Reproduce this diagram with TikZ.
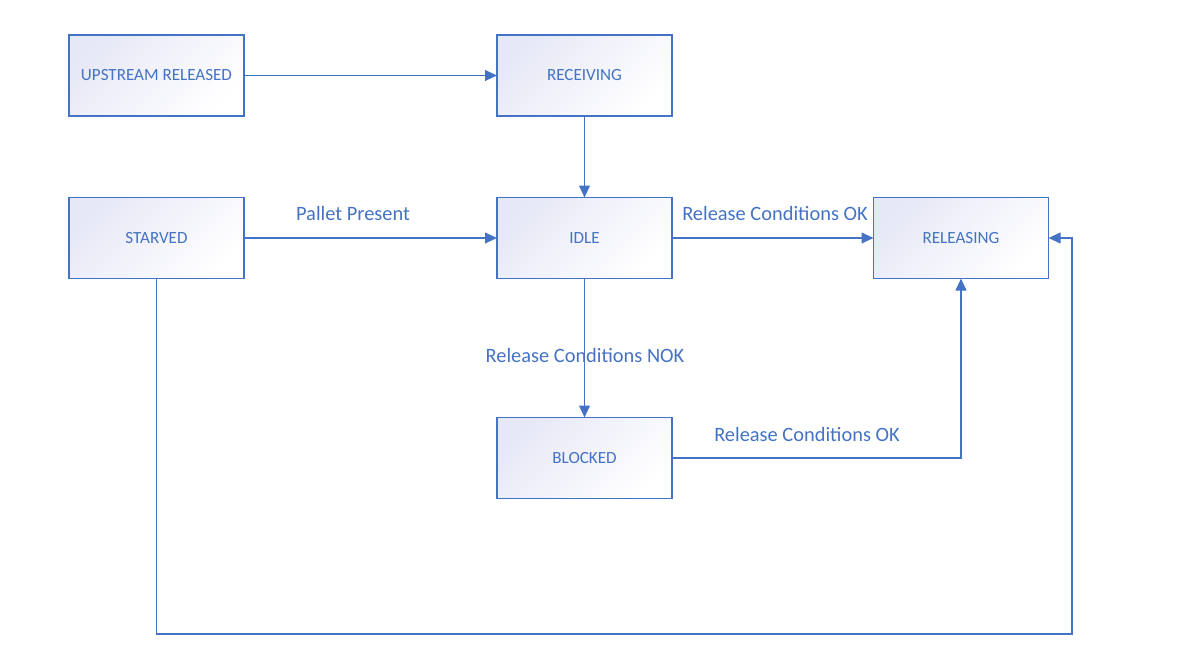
\documentclass[tikz,border=0pt]{standalone}
\usepackage{fontspec}
\setmainfont{Carlito}
\usepackage{tikz}
\usetikzlibrary{arrows.meta,positioning}
\definecolor{stblue}{RGB}{68,114,196}
\definecolor{stlav}{RGB}{230,232,246}
\tikzstyle{state} = [draw=stblue, line width=0.9pt, minimum width=131.25pt, minimum height=60.75pt, inner sep=0pt, outer sep=0pt, top color=stlav, bottom color=white, shading angle=45, text=stblue, font=\fontsize{12.8}{15}\selectfont]
\tikzstyle{arrow} = [line width=1.4pt, -{Triangle[length=9pt,width=8pt]}, color=stblue]
\tikzstyle{lbl} = [text=stblue, font=\fontsize{15.3}{18}\selectfont]

\begin{document}
\begin{tikzpicture}[x=0.75pt, y=-0.75pt]
\useasboundingbox (0,0) rectangle (1197,661);

% States
\node[state] (upstream) at (156.5,75.5) {UPSTREAM RELEASED};
\node[state] (receiving) at (584.5,75.5) {RECEIVING};
\node[state] (starved) at (156.5,238) {STARVED};
\node[state] (idle) at (584.5,238) {IDLE};
\node[state] (releasing) at (961,238) {RELEASING};
\node[state] (blocked) at (584.5,458) {BLOCKED};

% Labels
\node[lbl] (pallet) at (353,213) {Pallet Present};
\node[lbl] (okidle) at (775,213) {Release Conditions OK};
\node[lbl] (nok) at (585,355) {Release Conditions NOK};
\node[lbl] (okblocked) at (807,434) {Release Conditions OK};

% Transitions
\draw[arrow] (upstream) -- (receiving);
\draw[arrow] (receiving) -- (idle);
\draw[arrow] (starved) -- (idle);
\draw[arrow] (idle) -- (releasing);
\draw[arrow] (idle) -- (blocked);
\draw[arrow] (blocked) -| (releasing);
\coordinate (bottomturn) at (1072,634);
\draw[arrow] (starved.south) |- (bottomturn) |- (releasing.east);
\end{tikzpicture}
\end{document}
